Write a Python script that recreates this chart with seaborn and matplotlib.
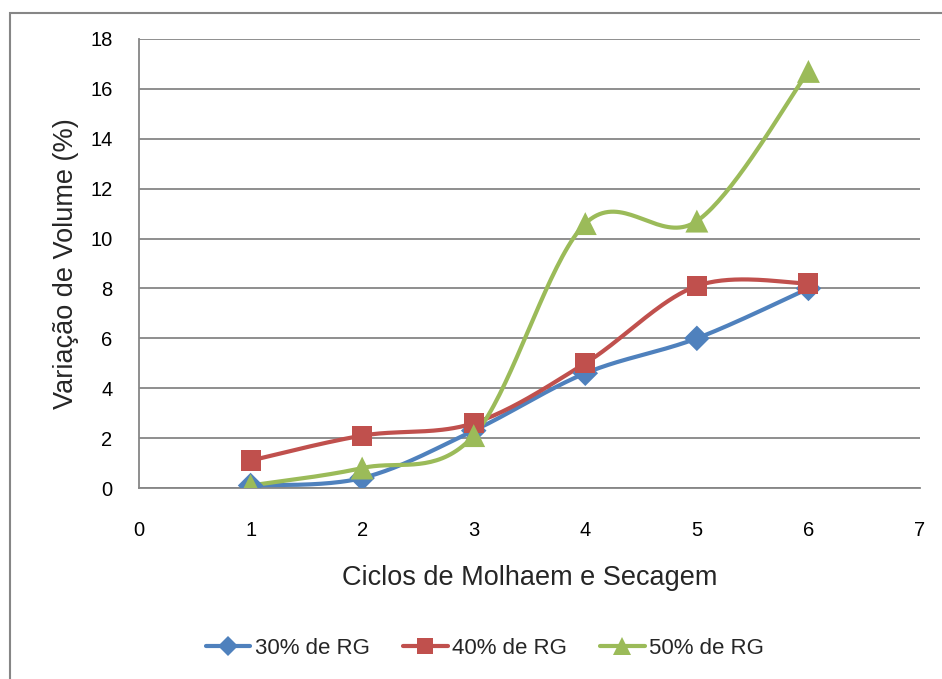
import numpy as np
import pandas as pd
import matplotlib
matplotlib.use("Agg")
import matplotlib.pyplot as plt
import seaborn as sns
from matplotlib.patches import Rectangle
from matplotlib.lines import Line2D

# Volume change per wetting/drying cycle for each RG content
cycles = [1, 2, 3, 4, 5, 6]
rg30 = [0.1, 0.4, 2.3, 4.6, 6.0, 8.0]
rg40 = [1.1, 2.1, 2.6, 5.0, 8.1, 8.2]
rg50 = [0.1, 0.8, 2.1, 10.6, 10.7, 16.7]
series_names = ["30% de RG", "40% de RG", "50% de RG"]
colors = ["#4F81BD", "#C0504D", "#9BBB59"]
markers = ["D", "s", "^"]
x_ticks = [0, 1, 2, 3, 4, 5, 6, 7]
y_ticks = [0, 2, 4, 6, 8, 10, 12, 14, 16, 18]

sns.set_theme(style="white")
plt.rcParams["font.family"] = ["Liberation Sans", "DejaVu Sans"]


def smooth(xs, ys, n=40):
    """Catmull-Rom spline through the points (spreadsheet-style smoothed line)."""
    xs = np.asarray(xs, float)
    ys = np.asarray(ys, float)
    px = np.concatenate([[xs[0]], xs, [xs[-1]]])
    py = np.concatenate([[ys[0]], ys, [ys[-1]]])
    out_x, out_y = [], []
    for i in range(1, len(px) - 2):
        p0 = np.array([px[i - 1], py[i - 1]])
        p1 = np.array([px[i], py[i]])
        p2 = np.array([px[i + 1], py[i + 1]])
        p3 = np.array([px[i + 2], py[i + 2]])
        c1 = p1 + (p2 - p0) / 6.0
        c2 = p2 - (p3 - p1) / 6.0
        t = np.linspace(0, 1, n)[:, None]
        b = ((1 - t) ** 3) * p1 + 3 * ((1 - t) ** 2) * t * c1 + 3 * (1 - t) * t ** 2 * c2 + t ** 3 * p2
        if i > 1:
            b = b[1:]
        out_x.extend(b[:, 0])
        out_y.extend(b[:, 1])
    return np.array(out_x), np.array(out_y)


fig = plt.figure(figsize=(9.42, 6.79), dpi=100)
W, H = 942, 679
ax = fig.add_axes([139 / W, 1 - 488 / H, (920 - 139) / W, (488 - 39) / H])

# chart-area border
fig.patches.append(Rectangle((9.5 / W, -0.05), 1.2, 1 - 12.5 / H + 0.05,
                             transform=fig.transFigure, fill=False,
                             edgecolor="#868686", linewidth=1.5, zorder=0))

marker_sizes = [13, 14.5, 16.5]
for name, vals, col, mk, ms in zip(series_names, [rg30, rg40, rg50], colors, markers, marker_sizes):
    sx, sy = smooth(cycles, vals)
    curve = pd.DataFrame({"x": sx, "y": sy})
    sns.lineplot(data=curve, x="x", y="y", sort=False, color=col, linewidth=3.0,
                 ax=ax, zorder=3, estimator=None)
    pts = pd.DataFrame({"x": cycles, "y": vals})
    sns.scatterplot(data=pts, x="x", y="y", marker=mk, color=col, s=ms ** 2,
                    edgecolor="none", linewidth=0, ax=ax, zorder=4)

ax.set_xlim(0, 7)
ax.set_ylim(0, 18)
ax.set_xticks(x_ticks)
ax.set_yticks(y_ticks)
ax.set_xticklabels([str(v) for v in x_ticks], fontsize=14.5)
ax.set_yticklabels([str(v) for v in y_ticks], fontsize=14.5)
ax.grid(axis="y", color="#868686", linewidth=1.3)
ax.grid(axis="x", visible=False)
ax.set_axisbelow(True)
for side in ["top", "right"]:
    ax.spines[side].set_visible(False)
for side in ["left", "bottom"]:
    ax.spines[side].set_color("#868686")
    ax.spines[side].set_linewidth(1.3)
ax.tick_params(axis="both", which="major", direction="out", colors="#868686",
               labelcolor="black", width=1.3)
ax.tick_params(axis="x", length=7, pad=17)
ax.tick_params(axis="y", length=5, pad=14)

ax.set_xlabel("Ciclos de Molhaem e Secagem", fontsize=19.5, labelpad=18)
ax.set_ylabel("Variação de Volume (%)", fontsize=19.5, labelpad=8)

handles = [Line2D([0], [0], color=c, linewidth=3.0, marker=m, markersize=s * 0.8,
                  markeredgewidth=0) for c, m, s in zip(colors, markers, marker_sizes)]
fig.legend(handles, series_names, loc="center", bbox_to_anchor=(485 / W, 1 - 648 / H),
           ncol=3, frameon=False, fontsize=16, handlelength=2.0, columnspacing=1.5,
           handletextpad=0.2)

fig.savefig("out.png", dpi=100)
